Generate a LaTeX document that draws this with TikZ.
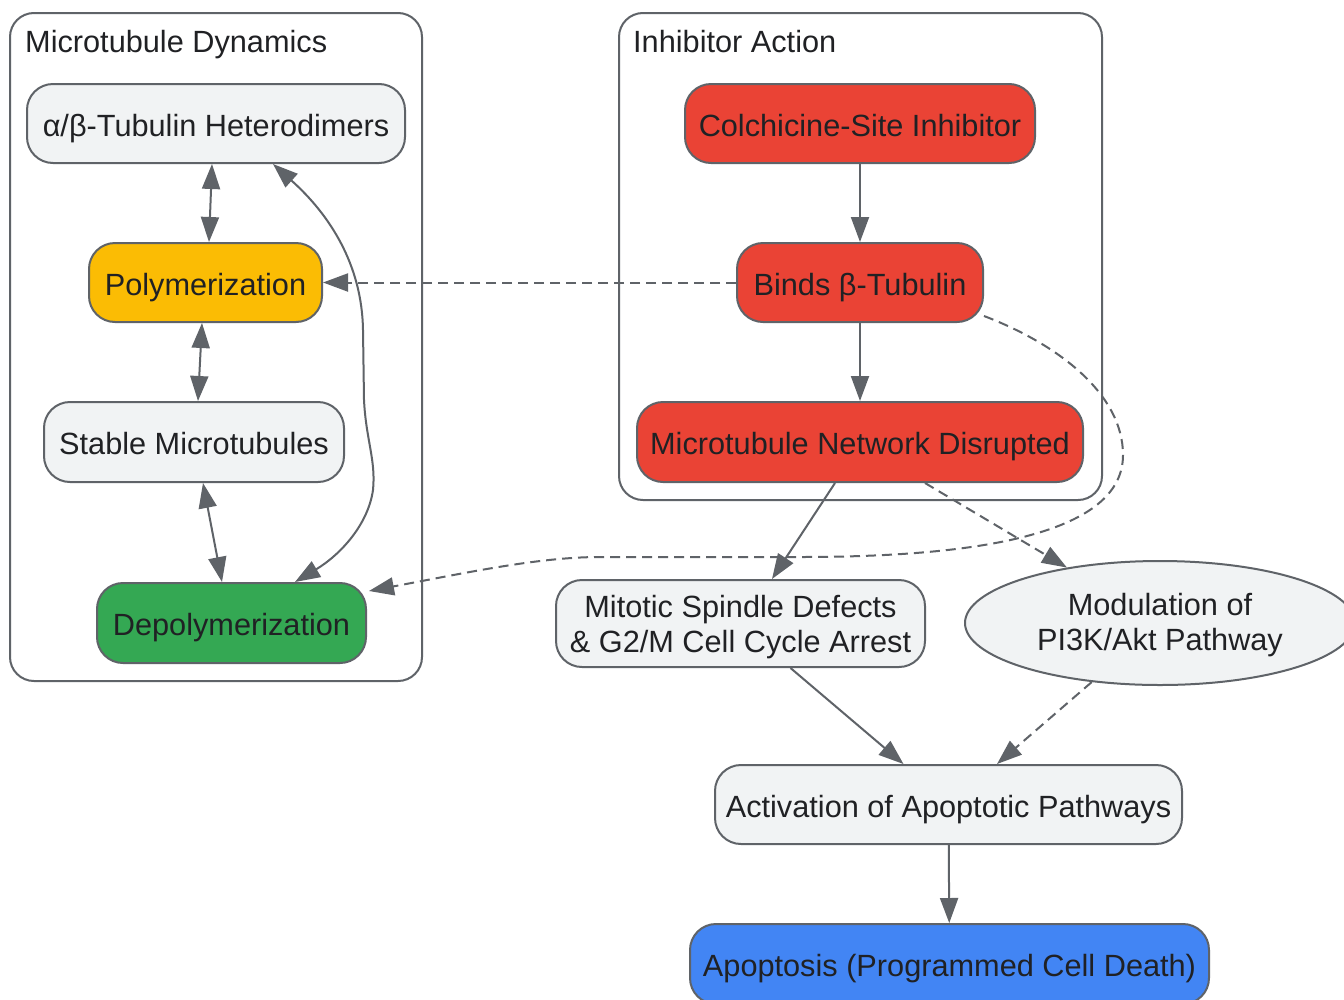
\documentclass[tikz,border=0pt]{standalone}
\usepackage{fontspec}
\setmainfont{Liberation Sans}
\usetikzlibrary{arrows.meta,shapes.geometric,calc}
\definecolor{bordergray}{HTML}{5F6368}
\definecolor{textdark}{HTML}{202124}
\definecolor{lightfill}{HTML}{F1F3F4}
\definecolor{yellowfill}{HTML}{FBBC04}
\definecolor{greenfill}{HTML}{34A853}
\definecolor{redfill}{HTML}{EA4335}
\definecolor{bluefill}{HTML}{4285F4}
\begin{document}
\begin{tikzpicture}[x=1pt,y=-1pt,
  txt/.style={text=textdark,font=\fontsize{30.7}{35}\selectfont},
  box/.style={txt,draw=bordergray,line width=2pt,rounded corners=26pt,inner sep=0pt,align=center,text height=25pt,text depth=0pt},
  twoline/.style={text height=60pt,text depth=3pt},
  cluster/.style={draw=bordergray,line width=2pt,rounded corners=24pt,inner sep=0pt},
  oval/.style={txt,draw=bordergray,line width=2pt,ellipse,inner sep=0pt,align=center,fill=lightfill},
  arr/.style={draw=bordergray,line width=2pt,-{Triangle[length=25pt,width=18pt]}},
  darr/.style={draw=bordergray,line width=2pt,{Triangle[length=25pt,width=18pt]}-{Triangle[length=25pt,width=18pt]}},
  dashedline/.style={dash pattern=on 10pt off 6pt}
]
\useasboundingbox (0,0) rectangle (1344,999);
\clip (0,0) rectangle (1344,999);
\fill[white] (0,0) rectangle (1344,999);

% clusters
\node[cluster,minimum width=412pt,minimum height=668pt] (clA) at (216,347) {};
\node[cluster,minimum width=483pt,minimum height=487pt] (clB) at (860.5,256.5) {};
\node[txt,anchor=base west,inner sep=0pt] (tA) at (25,52) {Microtubule Dynamics};
\node[txt,anchor=base west,inner sep=0pt] (tB) at (633,52) {Inhibitor Action};

% nodes
\node[box,fill=lightfill,minimum width=378pt,minimum height=79pt] (ab) at (216,123.5) {α/β-Tubulin Heterodimers};
\node[box,fill=yellowfill,minimum width=233pt,minimum height=79pt] (poly) at (205.5,282.5) {Polymerization};
\node[box,fill=lightfill,minimum width=300pt,minimum height=80pt] (stable) at (194,442) {Stable Microtubules};
\node[box,fill=greenfill,minimum width=269pt,minimum height=80pt] (depoly) at (231.5,623) {Depolymerization};
\node[box,fill=redfill,minimum width=350pt,minimum height=79pt] (colch) at (860,123.5) {Colchicine-Site Inhibitor};
\node[box,fill=redfill,minimum width=246pt,minimum height=79pt] (binds) at (860,282.5) {Binds β-Tubulin};
\node[box,fill=redfill,minimum width=446pt,minimum height=80pt] (net) at (860,442) {Microtubule Network Disrupted};
\node[box,twoline,fill=lightfill,minimum width=369pt,minimum height=87pt] (mitotic) at (740.5,623.5) {Mitotic Spindle Defects\\\& G2/M Cell Cycle Arrest};
\node[oval,text height=57pt,text depth=3pt,minimum width=390pt,minimum height=124pt] (mod) at (1160,623) {Modulation of\\PI3K/Akt Pathway};
\node[box,fill=lightfill,minimum width=467pt,minimum height=79pt] (act) at (948.5,804.5) {Activation of Apoptotic Pathways};
\node[box,fill=bluefill,minimum width=519pt,minimum height=80pt] (apo) at (949.5,964) {Apoptosis (Programmed Cell Death)};

% edges in Microtubule Dynamics
\draw[darr] ($(ab.south)+(-4,0)$) -- ($(poly.north)+(3.5,0)$);
\draw[darr] ($(poly.south)+(-3.5,0)$) -- ($(stable.north)+(4,0)$);
\draw[darr] ($(stable.south)+(9,0)$) -- ($(depoly.north)+(-9.5,0)$);
\draw[darr] ($(ab.south)+(57,0)$) .. controls (330,215) and (362,265) .. (363,330) -- (364,400)
  .. controls (366,440) and (376,460) .. (373,490)
  .. controls (368,525) and (340,555) .. ($(depoly.north)+(63.5,0)$);

% inhibitor edges
\draw[arr] (colch) -- (binds);
\draw[arr] (binds) -- (net);
\draw[arr,dashedline] (binds.west) -- (poly.east);
\draw[arr,dashedline] ($(binds.south east)+(0,-7)$) .. controls (1060,345) and (1123,395) .. (1123,455)
  .. controls (1123,528) and (1000,557) .. (800,557) -- (600,557)
  .. controls (540,557) and (470,572) .. ($(depoly.north east)+(2,9)$);

% downstream
\draw[arr] ($(net.south)+(-25,0)$) -- ($(mitotic.north)+(31.5,0)$);
\draw[arr,dashedline] ($(net.south)+(65,0)$) -- (mod);
\draw[arr] ($(mitotic.south)+(50,0)$) -- ($(act.north)+(-45,0)$);
\draw[arr,dashedline] (mod) -- ($(act.north)+(48.5,0)$);
\draw[arr] (act) -- (apo);
\end{tikzpicture}
\end{document}
